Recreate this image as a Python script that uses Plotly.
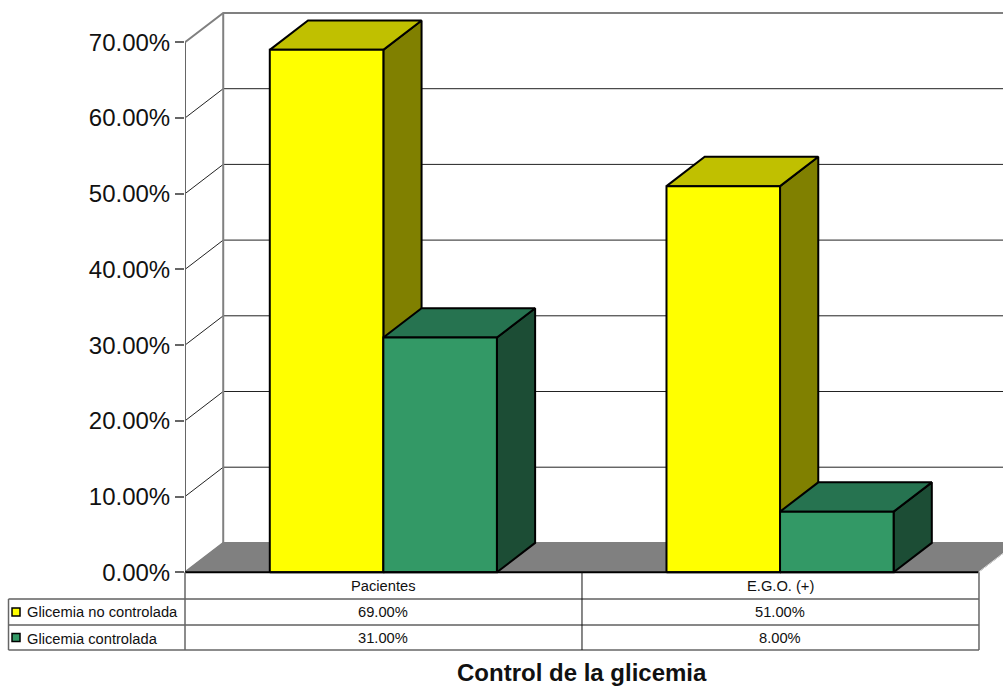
import plotly.graph_objects as go

# Chart data
categories = ["Pacientes", "E.G.O. (+)"]
series_names = ["Glicemia no controlada", "Glicemia controlada"]
no_controlada = [69.0, 51.0]
controlada = [31.0, 8.0]
y_ticks = [0, 10, 20, 30, 40, 50, 60, 70]
axis_title = "Control de la glicemia"

# Face colours for each series: front, top, side
YELLOW = ("#FFFF00", "#C0C000", "#808000")
GREEN = ("#339966", "#267350", "#1C4D35")
FONT = "Liberation Sans"

W, H = 1003, 687
LEFT = 185.4
X_UNIT = 396.5          # pixels per category
Y_UNIT = 7.57           # pixels per percentage point
Y_ZERO = 572.2          # pixel row of 0 %
BAR_W = 113.5 / X_UNIT
DX = 38.2 / X_UNIT      # oblique depth in x
DY = 29.3 / Y_UNIT      # oblique depth in y

x_min = -0.5
x_max = x_min + (W - LEFT) / X_UNIT
y_max = Y_ZERO / Y_UNIT
y_min = -(H - Y_ZERO) / Y_UNIT
x_end = 1.5


def px(x):
    return (x - LEFT) / (W - LEFT)


def py(y):
    return 1 - y / H


fig = go.Figure()


def poly(xs, ys, fill, line="black", width=2):
    fig.add_trace(go.Scatter(
        x=xs + xs[:1], y=ys + ys[:1], mode="lines", fill="toself",
        fillcolor=fill, line=dict(color=line, width=width),
        hoverinfo="skip", showlegend=False))


def seg(xs, ys, color, width=1):
    fig.add_trace(go.Scatter(
        x=xs, y=ys, mode="lines", line=dict(color=color, width=width),
        hoverinfo="skip", showlegend=False))


# Floor of the 3D box
poly([x_min, x_min + DX, x_end + DX, x_end],
     [0, DY, DY, 0], "#808080", "#808080", 1)

# Grid lines on the left and back walls
for v in y_ticks[1:-1]:
    seg([x_min, x_min + DX, x_max], [v, v + DY, v + DY], "#222222", 1)

# Wall edges
top = y_ticks[-1]
seg([x_min + DX, x_min + DX], [DY, top + DY], "#808080", 2)
seg([x_min, x_min + DX, x_max], [top, top + DY, top + DY], "#808080", 2)
seg([x_min, x_min + DX, x_max], [0, DY, DY], "#808080", 2)
seg([x_end, x_end + DX], [0, DY], "#D8D8D8", 1)


def bar3d(left, value, colors):
    right = left + BAR_W
    poly([right, right + DX, right + DX, right],
         [0, DY, value + DY, value], colors[2])
    poly([left, left + DX, right + DX, right],
         [value, value + DY, value + DY, value], colors[1])
    poly([left, right, right, left], [0, 0, value, value], colors[0])


# Bars, painted back to front inside each category
for i in range(len(categories)):
    bar3d(i - BAR_W, no_controlada[i], YELLOW)
    bar3d(i, controlada[i], GREEN)

# Vertical axis line and front floor edge
seg([x_min, x_min], [0, top], "#666666", 2)
seg([x_min, x_end], [0, 0], "black", 2)

# Data table under the plot
col_x = [LEFT, 582.2, 979]
row_y = [572.2, 599, 625, 650]
LEFT_EDGE = 9
shapes = []


def hline(x0, x1, y, color, width=1):
    shapes.append(dict(type="line", xref="paper", yref="paper",
                       x0=px(x0), x1=px(x1), y0=py(y), y1=py(y),
                       line=dict(color=color, width=width)))


def vline(x, y0, y1, color, width=1):
    shapes.append(dict(type="line", xref="paper", yref="paper",
                       x0=px(x), x1=px(x), y0=py(y0), y1=py(y1),
                       line=dict(color=color, width=width)))


hline(LEFT_EDGE, col_x[2], row_y[1], "#111111")
hline(LEFT_EDGE, col_x[2], row_y[2], "#111111")
hline(LEFT_EDGE, col_x[2], row_y[3], "#666666", 1.5)
vline(LEFT_EDGE, row_y[1], row_y[3], "#666666", 1.5)
vline(col_x[0], row_y[0], row_y[3], "#666666", 1.5)
vline(col_x[1], row_y[0], row_y[3], "#111111")
vline(col_x[2], row_y[0], row_y[3], "#666666", 1.5)

annotations = []


def label(x, y, text, size=14.7, anchor="center", bold=False):
    annotations.append(dict(
        xref="paper", yref="paper", x=px(x), y=py(y), text=f"<b>{text}</b>" if bold else text,
        showarrow=False, xanchor=anchor, yanchor="middle",
        font=dict(family=FONT, size=size, color="#111111")))


centers = [(col_x[0] + col_x[1]) / 2, (col_x[1] + col_x[2]) / 2]
for i, name in enumerate(categories):
    label(centers[i], 585.5, name)
    label(centers[i], 611.5, f"{no_controlada[i]:.2f}%")
    label(centers[i], 638, f"{controlada[i]:.2f}%")

label(25.5, 612, series_names[0], anchor="left")
label(25.5, 638.5, series_names[1], anchor="left")
label(582, 672.5, axis_title, size=24, bold=True)

# Legend keys in the table's first column
for yc, color in [(612, YELLOW[0]), (637.5, GREEN[0])]:
    shapes.append(dict(type="rect", xref="paper", yref="paper",
                       x0=px(12.5), x1=px(20.5), y0=py(yc + 4), y1=py(yc - 4),
                       fillcolor=color, line=dict(color="black", width=1.5)))

fig.update_layout(
    width=W, height=H, autosize=False,
    margin=dict(l=LEFT, r=0, t=0, b=0),
    paper_bgcolor="white", plot_bgcolor="white",
    showlegend=False, shapes=shapes, annotations=annotations,
    xaxis=dict(range=[x_min, x_max], visible=False, fixedrange=True),
    yaxis=dict(
        range=[y_min, y_max], showgrid=False, zeroline=False, showline=False,
        tickmode="array", tickvals=y_ticks,
        ticktext=[f"{v:.2f}%" for v in y_ticks],
        ticks="outside", ticklen=9, tickwidth=1.5, tickcolor="#666666",
        tickfont=dict(family=FONT, size=24, color="#111111"), fixedrange=True),
)

fig.write_html("out.html", config=dict(displayModeBar=False))
